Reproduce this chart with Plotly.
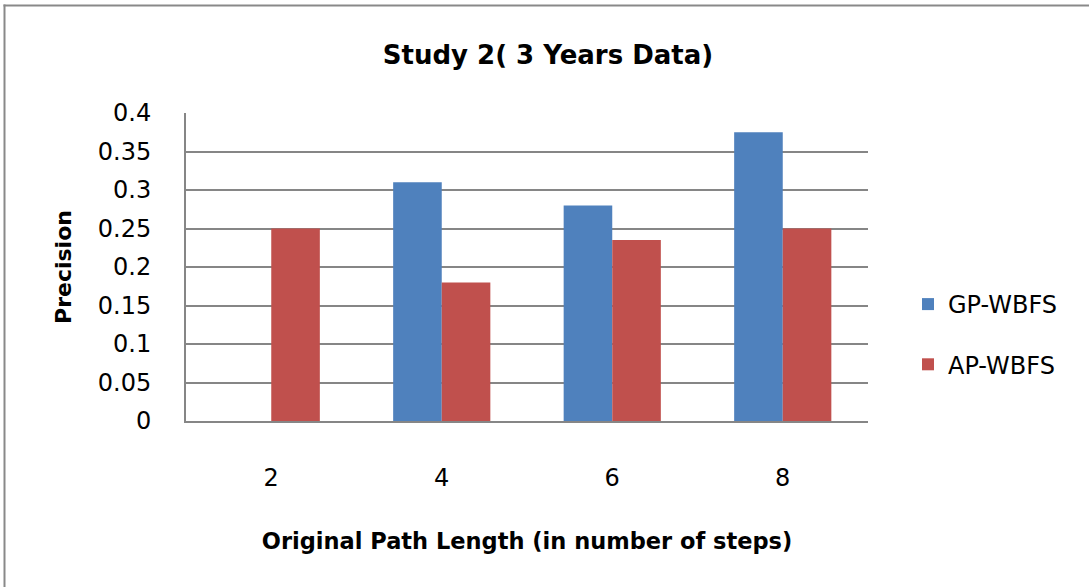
import plotly.graph_objects as go

categories = ["2", "4", "6", "8"]
gp_wbfs = [0, 0.31, 0.28, 0.375]
ap_wbfs = [0.25, 0.18, 0.235, 0.25]
y_ticks = [0, 0.05, 0.1, 0.15, 0.2, 0.25, 0.3, 0.35, 0.4]
y_ticktext = ["0", "0.05", "0.1", "0.15", "0.2", "0.25", "0.3", "0.35", "0.4"]

W, H = 1089, 587
L, R, T, B = 186, 868, 113, 421
FONT = "DejaVu Sans"

def px_x(p):
    return (p - L) / (R - L)

def px_y(p):
    return (B - p) / (B - T)

fig = go.Figure()
fig.add_trace(go.Bar(name="GP-WBFS", x=categories, y=gp_wbfs, legendgroup="gp",
                     marker=dict(color="#4F81BD", line=dict(width=0))))
fig.add_trace(go.Bar(name="AP-WBFS", x=categories, y=ap_wbfs, legendgroup="ap",
                     marker=dict(color="#C0504D", line=dict(width=0))))

frame = dict(color="#898989", width=2)
fig.update_layout(
    width=W, height=H,
    margin=dict(l=L, r=W - R, t=T, b=H - B, pad=0),
    paper_bgcolor="white", plot_bgcolor="white",
    barmode="group", bargap=0.43, bargroupgap=0,
    font=dict(family=FONT, size=24, color="black"),
    title=dict(text="<b>Study 2( 3 Years Data)</b>", x=px_x(548), xref="paper", xanchor="center",
               y=1 - 55 / H, yanchor="middle", font=dict(size=26, family=FONT)),
    showlegend=True,
    legend=dict(x=px_x(908), y=px_y(334.5), xanchor="left", yanchor="middle",
                font=dict(size=24, family=FONT), tracegroupgap=26, itemwidth=30,
                bgcolor="rgba(0,0,0,0)"),
    xaxis=dict(type="category", showgrid=False, showline=True, linecolor="#868686", linewidth=2,
               ticks="", ticklabelstandoff=34, tickfont=dict(size=24),
               title=dict(text="<b>Original Path Length (in number of steps)</b>", standoff=42,
                          font=dict(size=22.5))),
    yaxis=dict(range=[0, 0.4], tickvals=y_ticks, ticktext=y_ticktext, showgrid=True,
               gridcolor="#868686", gridwidth=2, showline=True, linecolor="#868686", linewidth=2,
               ticks="", ticklabelstandoff=28, tickfont=dict(size=24), zeroline=False,
               title=dict(text="<b>Precision</b>", standoff=20, font=dict(size=22))),
    shapes=[
        dict(type="line", xref="paper", yref="paper", x0=px_x(4.5), x1=px_x(4.5),
             y0=px_y(H + 10), y1=px_y(4.5), line=frame, layer="below"),
        dict(type="line", xref="paper", yref="paper", x0=px_x(3.5), x1=px_x(W + 10),
             y0=px_y(5.5), y1=px_y(5.5), line=frame, layer="below"),
    ],
)

fig.write_html("out.html", config={"displayModeBar": False},
               post_script="document.body.style.margin='0px';")
